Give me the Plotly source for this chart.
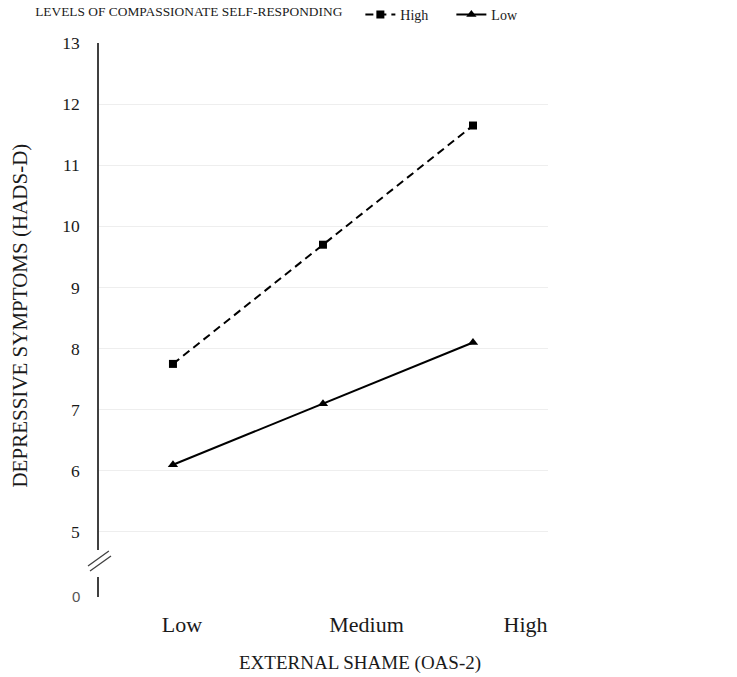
import plotly.graph_objects as go

categories = ["Low", "Medium", "High"]
high_values = [7.75, 9.7, 11.65]
low_values = [6.1, 7.1, 8.1]
y_ticks = [5, 6, 7, 8, 9, 10, 11, 12, 13]
series_names = ["High", "Low"]

SERIF = "Liberation Serif, Times New Roman, serif"
INK = "#1a1a1a"
AXIS = "#404040"
GRID = "#eeeeee"
LIGHT = "#d9d9d9"

xpos = list(range(len(categories)))
xr = [-0.493, 2.5]

fig = go.Figure()
fig.add_trace(go.Scatter(
    x=xpos, y=high_values, name=series_names[0], mode="lines+markers",
    line=dict(color="black", width=2, dash="8px,5px"),
    marker=dict(symbol="square", size=8, color="black"),
    xaxis="x", yaxis="y"))
fig.add_trace(go.Scatter(
    x=xpos, y=low_values, name=series_names[1], mode="lines+markers",
    line=dict(color="black", width=2),
    marker=dict(symbol="triangle-up", size=9, color="black"),
    xaxis="x", yaxis="y"))

fig.update_layout(
    width=737, height=677,
    margin=dict(l=99, r=189, t=43, b=80, autoexpand=False),
    paper_bgcolor="white", plot_bgcolor="white",
    font=dict(family=SERIF, color=INK),
    showlegend=True,
    legend=dict(
        orientation="h", xref="container", yref="container",
        x=0.045, xanchor="left", y=0.978, yanchor="middle",
        title=dict(text="LEVELS OF COMPASSIONATE SELF-RESPONDING" + "\u00a0" * 3,
                   side="left",
                   font=dict(size=13.4, family=SERIF, color=INK)),
        font=dict(size=14, family=SERIF, color=INK),
        itemwidth=30, entrywidth=46, entrywidthmode="pixels",
        bgcolor="rgba(0,0,0,0)"),
    xaxis=dict(domain=[0, 1], anchor="y", range=xr, showticklabels=False,
               showgrid=False, showline=False, zeroline=False, ticks=""),
    yaxis=dict(domain=[0.0848, 1], anchor="x", range=[4.705, 13],
               tickvals=y_ticks, showgrid=True, gridcolor=GRID, gridwidth=1,
               showline=True, linecolor=AXIS, linewidth=1.5, zeroline=False,
               ticks="", ticklabelstandoff=14,
               tickfont=dict(size=17.5, family=SERIF, color=INK)),
    xaxis2=dict(domain=[0, 1], anchor="y2", range=xr, showticklabels=False,
                showgrid=False, zeroline=False, showline=True, linecolor=LIGHT,
                linewidth=1.5, ticks="inside", ticklen=5, tickcolor=LIGHT,
                tickvals=[0, 1, 2, 2.5]),
    xaxis3=dict(overlaying="x2", anchor="y2", range=xr, showgrid=False,
                zeroline=False, showline=False, ticks="",
                tickvals=[0.06, 1.29, 2.35], ticktext=categories,
                ticklabelstandoff=12,
                tickfont=dict(size=22, family=SERIF, color=INK)),
    yaxis2=dict(domain=[0, 0.036], anchor="x2", range=[0, 0.327],
                tickvals=[0], ticktext=["0"], showgrid=False, zeroline=False,
                showline=True, linecolor=AXIS, linewidth=1.5, ticks="",
                ticklabelstandoff=14,
                tickfont=dict(size=15, family="Liberation Sans, Arial, sans-serif",
                              color="#555555")),
)

# invisible helper trace so that the overlay category axis is drawn
fig.add_trace(go.Scatter(x=xpos, y=[0] * len(xpos), xaxis="x3", yaxis="y2",
                         mode="markers", marker=dict(opacity=0),
                         showlegend=False, hoverinfo="skip"))

fig.add_annotation(text="EXTERNAL SHAME (OAS-2)", xref="paper", yref="paper",
                   x=0.581, y=-0.12, xanchor="center", yanchor="middle",
                   showarrow=False, font=dict(size=19, family=SERIF, color=INK))
fig.add_annotation(text="DEPRESSIVE SYMPTOMS (HADS-D)", xref="paper", yref="paper",
                   x=-0.176, y=0.508, xanchor="center", yanchor="middle",
                   textangle=-90, showarrow=False,
                   font=dict(size=21, family=SERIF, color=INK))

# axis break marks
for x0, y0, x1, y1 in [(-0.0245, 0.0560, 0.022, 0.0830),
                       (-0.0200, 0.0470, 0.0267, 0.0740)]:
    fig.add_shape(type="line", xref="paper", yref="paper",
                  x0=x0, y0=y0, x1=x1, y1=y1,
                  line=dict(color=AXIS, width=1.3))

fig.write_html("out.html")
